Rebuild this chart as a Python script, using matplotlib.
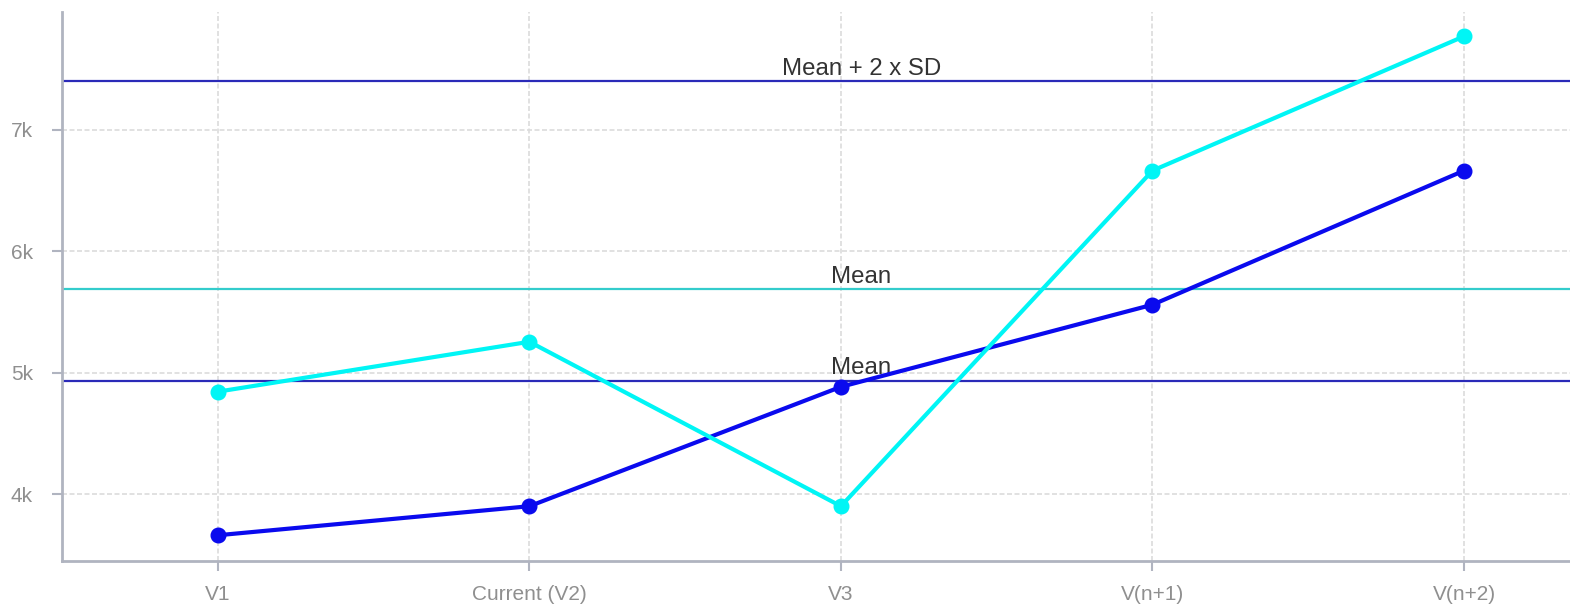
import numpy as np
import matplotlib.pyplot as plt

categories = ['V1', 'Current (V2)', 'V3', 'V(n+1)', 'V(n+2)']
series_blue = [3662, 3901, 4884, 5560, 6664]
series_cyan = [4844, 5255, 3901, 6664, 7770]
y_ticks = [4000, 5000, 6000, 7000]
y_labels = ['4k', '5k', '6k', '7k']

plt.rcParams['font.family'] = ['Liberation Sans', 'DejaVu Sans']

fig = plt.figure(figsize=(15.7, 6.06), dpi=100)
ax = fig.add_axes([62/1570, 1 - 561/606, 1 - 62/1570, 549/606])

x = np.arange(len(categories))

# reference lines
mean_blue = np.mean(series_blue)
mean_cyan = np.mean(series_cyan)
upper_blue = mean_blue + 2 * np.std(series_blue, ddof=1)
ax.axhline(upper_blue, color='#2a2ab8', lw=1.6, zorder=2)
ax.axhline(mean_cyan, color='#33cccc', lw=1.6, zorder=2)
ax.axhline(mean_blue, color='#2a2ab8', lw=1.6, zorder=2)
for yv, txt in [(upper_blue, 'Mean + 2 x SD'), (mean_cyan, 'Mean'), (mean_blue, 'Mean')]:
    ax.text(2.066, yv + 12, txt, ha='center', va='bottom', fontsize=17.3, color='#333333', zorder=3)

ax.plot(x, series_blue, color='#0a0aee', lw=3, marker='o', ms=10.5, zorder=4)
ax.plot(x, series_cyan, color='#00f5f5', lw=3, marker='o', ms=10.5, zorder=4)

ax.set_xlim(-0.5, 4.34)
ax.set_ylim(3450, 7970)
ax.set_xticks(x)
ax.set_xticklabels(categories)
ax.set_yticks(y_ticks)
ax.set_yticklabels(y_labels)
ax.tick_params(colors='#b0b4c0', labelcolor='#8f8f8f', labelsize=15, width=1.5, length=7)
ax.tick_params(axis='x', pad=10)
ax.tick_params(axis='y', pad=14)

ax.grid(True, color='#dcdcdc', ls=(0, (3, 1.5)), lw=1.2)
ax.set_axisbelow(True)
for s in ['top', 'right']:
    ax.spines[s].set_visible(False)
for s in ['left', 'bottom']:
    ax.spines[s].set_color('#b0b4c0')
    ax.spines[s].set_linewidth(2)

fig.savefig('out.png', dpi=100)
